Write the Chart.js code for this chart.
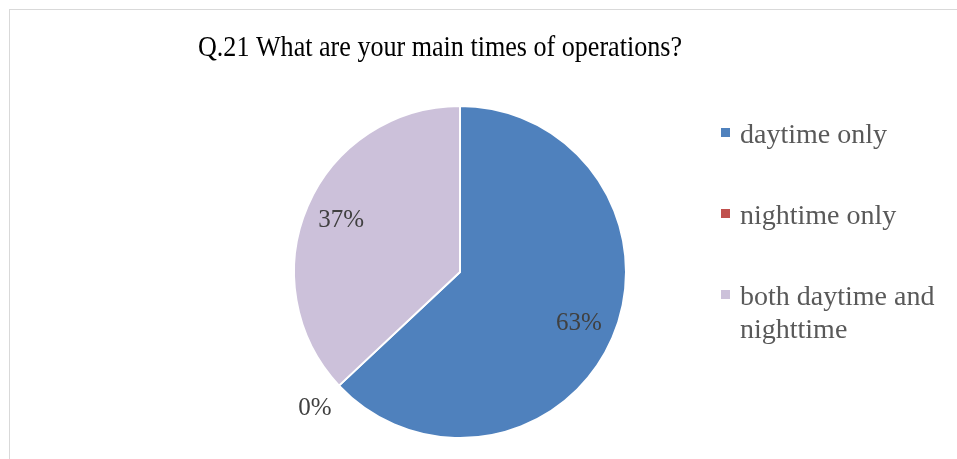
<!DOCTYPE html>
<html>
<head>
<meta charset="utf-8">
<script src="https://cdn.jsdelivr.net/npm/chart.js@4.4.1/dist/chart.umd.min.js"></script>
<style>
  html, body { margin: 0; padding: 0; background: #fff; }
  #wrap { position: relative; width: 957px; height: 459px; overflow: hidden; }
  #frame { position: absolute; left: 9px; top: 9px; width: 960px; height: 470px; border: 1px solid #d9d9d9; box-sizing: border-box; }
  canvas { position: absolute; left: 0; top: 0; }
</style>
</head>
<body>
<div id="wrap">
  <div id="frame"></div>
  <canvas id="c" width="957" height="459"></canvas>
</div>
<script>
const titleText = 'Q.21 What are your main times of operations?';
const categories = ['daytime only', 'nightime only', 'both daytime and nighttime'];
const shares = [63, 0, 37];
const sliceColors = ['#4F81BD', '#C0504D', '#CCC1DA'];

const SERIF = '"Liberation Serif", "DejaVu Serif", serif';

// Percentage labels placed along each slice's bisector
const sliceLabels = {
  id: 'sliceLabels',
  afterDatasetsDraw(chart) {
    const ctx = chart.ctx;
    const meta = chart.getDatasetMeta(0);
    const values = chart.data.datasets[0].data;
    ctx.save();
    ctx.font = '25px ' + SERIF;
    ctx.fillStyle = '#404040';
    ctx.textAlign = 'center';
    ctx.textBaseline = 'middle';
    meta.data.forEach((arc, i) => {
      const p = arc.getProps(['x', 'y', 'startAngle', 'endAngle', 'outerRadius'], true);
      const mid = (p.startAngle + p.endAngle) / 2;
      const r = values[i] > 0 ? p.outerRadius * 0.78 : p.outerRadius * 1.2;
      ctx.fillText(values[i] + '%', p.x + Math.cos(mid) * r, p.y + Math.sin(mid) * r, 46);
    });
    ctx.restore();
  }
};

// Title and right-hand legend with wrapped entries
const sideText = {
  id: 'sideText',
  afterDraw(chart) {
    const ctx = chart.ctx;
    ctx.save();
    ctx.font = '30px ' + SERIF;
    ctx.fillStyle = '#000';
    ctx.textAlign = 'center';
    ctx.textBaseline = 'alphabetic';
    ctx.fillText(titleText, 440, 56, 484);

    ctx.font = '28px ' + SERIF;
    ctx.textAlign = 'left';
    const colors = chart.data.datasets[0].backgroundColor;
    const baselines = [143, 224, 305];
    const lineH = 33;
    const maxW = 205;
    chart.data.labels.forEach((label, i) => {
      const words = label.split(' ');
      const lines = [];
      let cur = '';
      words.forEach(w => {
        const t = cur ? cur + ' ' + w : w;
        if (ctx.measureText(t).width > maxW && cur) { lines.push(cur); cur = w; }
        else cur = t;
      });
      lines.push(cur);
      ctx.fillStyle = colors[i];
      ctx.fillRect(721, baselines[i] - 15, 9, 9);
      ctx.fillStyle = '#595959';
      lines.forEach((ln, k) => ctx.fillText(ln, 740, baselines[i] + k * lineH));
    });
    ctx.restore();
  }
};

new Chart(document.getElementById('c'), {
  type: 'pie',
  data: {
    labels: categories,
    datasets: [{
      data: shares,
      backgroundColor: sliceColors,
      borderColor: '#ffffff',
      borderWidth: 2
    }]
  },
  options: {
    responsive: false,
    animation: false,
    radius: 166,
    layout: { padding: { left: 200, right: 237, top: 100, bottom: 15 } },
    plugins: {
      legend: { display: false },
      tooltip: { enabled: false },
      title: { display: false }
    }
  },
  plugins: [sliceLabels, sideText]
});
</script>
</body>
</html>
